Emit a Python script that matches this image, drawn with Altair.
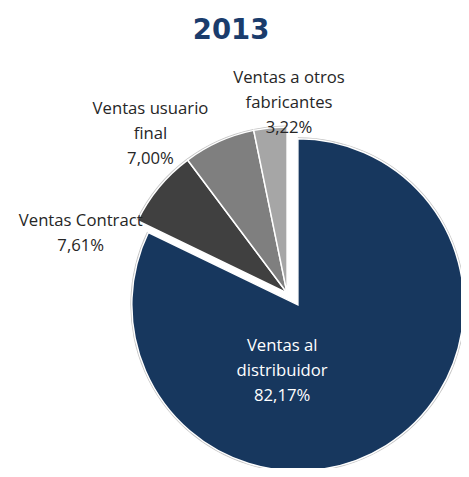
import altair as alt
import pandas as pd

title_text = ["2013"]
categories = ["Ventas al distribuidor", "Ventas Contract", "Ventas usuario final", "Ventas a otros fabricantes"]
display_lines = [["Ventas al", "distribuidor"], ["Ventas Contract"], ["Ventas usuario", "final"], ["Ventas a otros", "fabricantes"]]
values = [82.17, 7.61, 7.00, 3.22]
groups = ["main", "rest", "rest", "rest"]

colors = ["#17375E", "#404040", "#7F7F7F", "#A6A6A6"]

df = pd.DataFrame({
    "cat": categories,
    "value": values,
    "group": groups,
    "order": list(range(len(categories))),
    "label": ["\n".join(l + [f"{v:.2f}".replace(".", ",") + "%"]) for l, v in zip(display_lines, values)],
})

R = 169
base = alt.Chart(df)
theta = alt.Theta("value:Q", stack=True)
color = alt.Color("cat:N", scale=alt.Scale(domain=categories, range=colors), legend=None)
order = alt.Order("order:Q")

centers = {"main": (295, 298), "rest": (284, 286)}

layers = []
for g, (cx, cy) in centers.items():
    sel = alt.condition(alt.datum.group == g, alt.value(1), alt.value(0))
    layers.append(base.mark_arc(radius=R + 1.5, color="#C4C4C4").encode(
        theta=theta, order=order, opacity=sel, x=alt.value(cx), y=alt.value(cy)))
    layers.append(base.mark_arc(radius=R, stroke="white", strokeWidth=1.5).encode(
        theta=theta, color=color, order=order, opacity=sel, x=alt.value(cx), y=alt.value(cy)))

label_pos = {
    "Ventas al distribuidor": (279, 345, "white"),
    "Ventas Contract": (74, 218, "#262626"),
    "Ventas usuario final": (145, 104, "#262626"),
    "Ventas a otros fabricantes": (286, 72, "#262626"),
}
for c in categories:
    px, py, col = label_pos[c]
    layers.append(
        base.transform_filter(alt.datum.cat == c).mark_text(
            font="Open Sans", fontSize=17, lineHeight=25.5, align="center", baseline="alphabetic",
            lineBreak="\n", color=col,
        ).encode(text="label:N", x=alt.value(px), y=alt.value(py))
    )

layers.append(alt.Chart(pd.DataFrame({"t": title_text})).mark_text(
    font="DejaVu Sans", fontSize=28, fontWeight="bold", color="#1A3C6C",
    align="center", baseline="alphabetic",
).encode(text="t:N", x=alt.value(227), y=alt.value(27)))

chart = alt.layer(*layers).properties(
    width=461, height=460, padding=0,
    autosize=alt.AutoSizeParams(type="fit", contains="padding"),
).configure_view(stroke=None)

chart.save("out.html", embed_options={"renderer": "svg", "actions": False})
